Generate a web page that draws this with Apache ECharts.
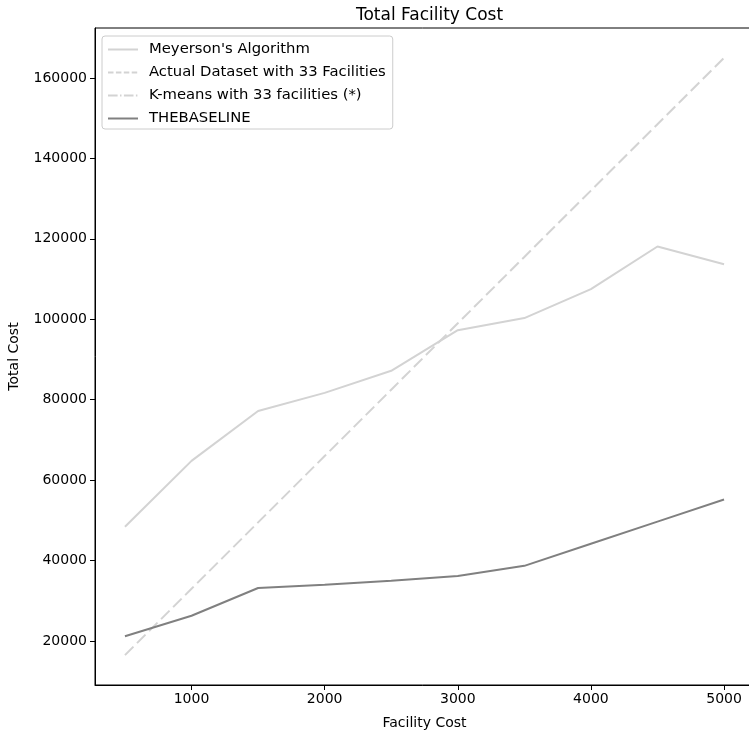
<!DOCTYPE html>
<html>
<head>
<meta charset="utf-8">
<script src="https://cdn.jsdelivr.net/npm/echarts@6/dist/echarts.min.js"></script>
<style>
  html, body { margin: 0; padding: 0; background: #fff; }
  #chart { width: 749px; height: 732px; }
</style>
</head>
<body>
<div id="chart"></div>
<script>
// Facility cost levels (x axis)
const facilityCost = [500, 1000, 1500, 2000, 2500, 3000, 3500, 4000, 4500, 5000];

// Total cost per method
const meyerson = [48400, 64800, 77200, 81700, 87200, 97300, 100300, 107500, 118100, 113700];
const actualDataset = [16500, 33000, 49500, 66000, 82500, 99000, 115500, 132000, 148500, 165000];
const kmeans = [];
const baseline = [21200, 26300, 33200, 34000, 35000, 36200, 38700, 44200, 49700, 55200];

// Tick labels
const xTicks = [1000, 2000, 3000, 4000, 5000];
const yTicks = [20000, 40000, 60000, 80000, 100000, 120000, 140000, 160000];

const pairs = ys => facilityCost.map((x, i) => [x, ys[i]]).filter(p => p[1] !== undefined);

const FONT = 'DejaVu Sans';
const chart = echarts.init(document.getElementById('chart'), null, { renderer: 'canvas' });

const DASH = [12, 5];
const DASHDOT = [9.6, 2.4, 1.5, 2.4];
const plain = v => String(v);

chart.setOption({
  animation: false,
  backgroundColor: '#ffffff',
  textStyle: { fontFamily: FONT },
  title: {
    text: 'Total Facility Cost',
    left: 424.5,
    textAlign: 'center',
    top: 2,
    textStyle: { fontFamily: FONT, fontSize: 17, fontWeight: 'normal', color: '#000' }
  },
  grid: {
    left: 95,
    top: 28,
    width: 659,
    height: 657,
    show: true,
    borderColor: '#000',
    borderWidth: 1,
    containLabel: false,
    outerBoundsMode: 'none'
  },
  legend: {
    orient: 'vertical',
    left: 102,
    top: 36,
    padding: [6, 7, 3, 5],
    itemWidth: 30,
    itemHeight: 14,
    itemGap: 8,
    backgroundColor: 'rgba(255,255,255,0.8)',
    borderColor: '#cccccc',
    borderWidth: 1,
    borderRadius: 3,
    itemStyle: { opacity: 0 },
    textStyle: { fontFamily: FONT, fontSize: 14.8, color: '#000', padding: [0, 0, 0, 6] },
    data: [
      { name: "Meyerson's Algorithm" },
      { name: 'Actual Dataset with 33 Facilities', lineStyle: { type: [5.5, 2.4] } },
      { name: 'K-means with 33 facilities (*)' },
      { name: 'THEBASELINE' }
    ]
  },
  xAxis: {
    type: 'value',
    min: 275,
    max: 5225,
    name: 'Facility Cost',
    nameLocation: 'middle',
    nameGap: 31,
    nameTextStyle: { fontFamily: FONT, fontSize: 14, color: '#000' },
    axisLine: { show: true, onZero: false, lineStyle: { color: '#000', width: 1 } },
    axisTick: { show: true, length: 5, customValues: xTicks, lineStyle: { color: '#000' } },
    axisLabel: { customValues: xTicks, formatter: plain, fontFamily: FONT, fontSize: 14, color: '#000', margin: 7 },
    splitLine: { show: false }
  },
  yAxis: {
    type: 'value',
    min: 9075,
    max: 172425,
    name: 'Total Cost',
    nameLocation: 'middle',
    nameGap: 74,
    nameTextStyle: { fontFamily: FONT, fontSize: 14, color: '#000' },
    axisLine: { show: true, onZero: false, lineStyle: { color: '#000', width: 1 } },
    axisTick: { show: true, length: 5, customValues: yTicks, lineStyle: { color: '#000' } },
    axisLabel: { customValues: yTicks, formatter: plain, fontFamily: FONT, fontSize: 14, color: '#000', margin: 8 },
    splitLine: { show: false }
  },
  series: [
    {
      name: "Meyerson's Algorithm",
      type: 'line',
      data: pairs(meyerson),
      symbol: 'none',
      color: '#d3d3d3',
      lineStyle: { color: '#d3d3d3', width: 2 }
    },
    {
      name: 'Actual Dataset with 33 Facilities',
      type: 'line',
      data: pairs(actualDataset),
      symbol: 'none',
      color: '#d3d3d3',
      lineStyle: { color: '#d3d3d3', width: 2, type: DASH }
    },
    {
      name: 'K-means with 33 facilities (*)',
      type: 'line',
      data: pairs(kmeans),
      symbol: 'none',
      color: '#d3d3d3',
      lineStyle: { color: '#d3d3d3', width: 1.5, type: DASHDOT }
    },
    {
      name: 'THEBASELINE',
      type: 'line',
      data: pairs(baseline),
      symbol: 'none',
      color: '#808080',
      lineStyle: { color: '#808080', width: 2 }
    }
  ]
});
</script>
</body>
</html>
